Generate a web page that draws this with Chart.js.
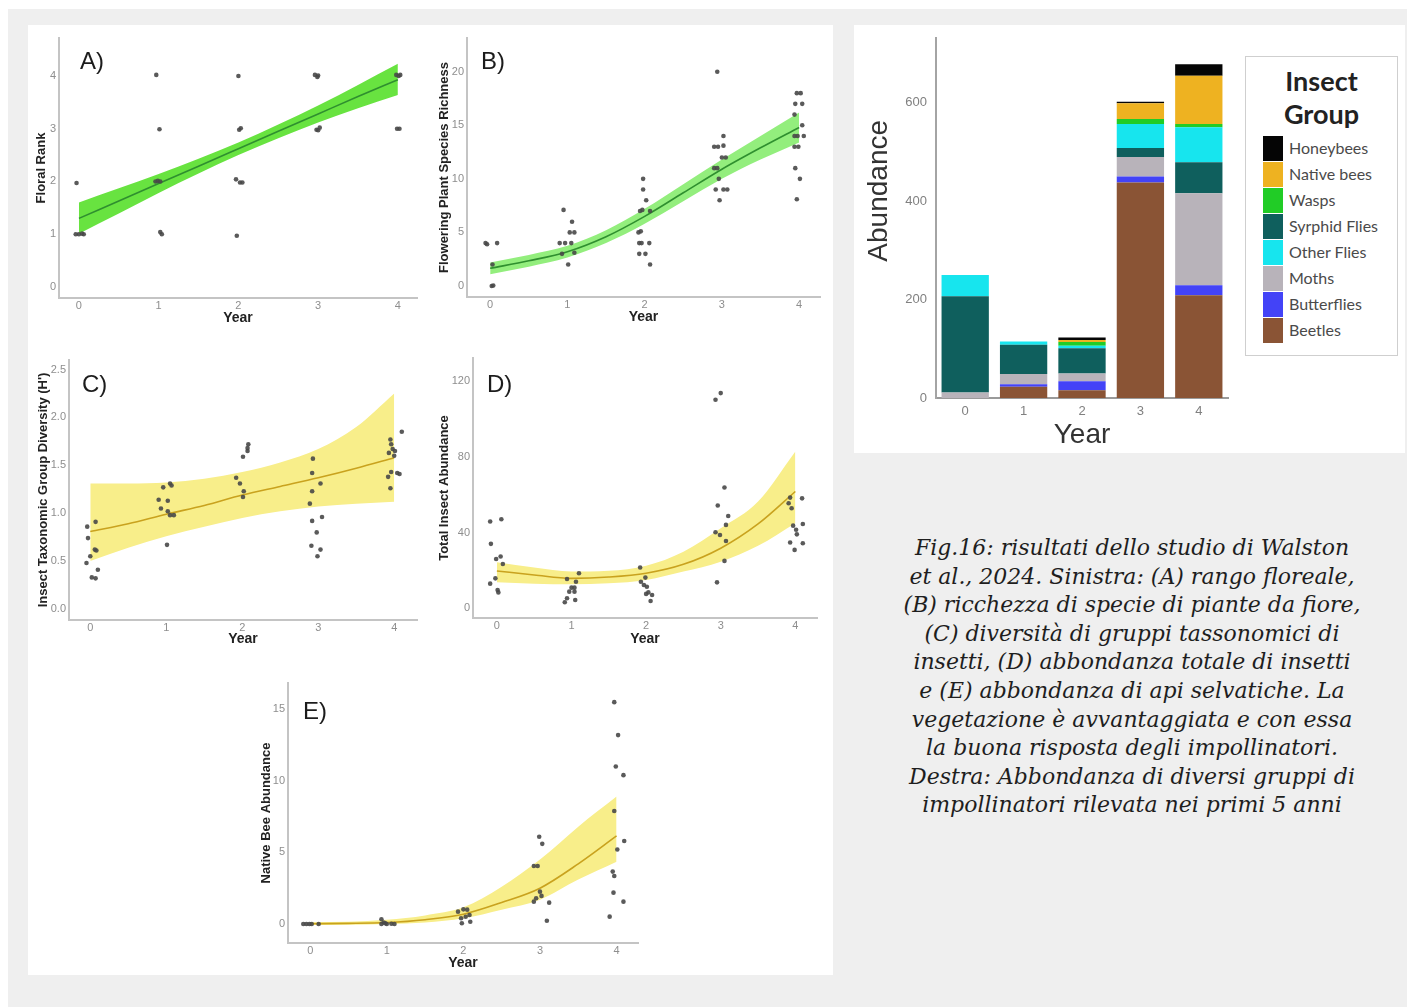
<!DOCTYPE html>
<html>
<head>
<meta charset="utf-8">
<script src="https://cdn.jsdelivr.net/npm/chart.js@4.4.1/dist/chart.umd.min.js"></script>
<style>
    body { margin: 0; width: 1407px; height: 1007px; background: #fff; position: relative; overflow: hidden; }
    #backdrop { position: absolute; left: 8px; top: 9px; width: 1399px; height: 998px; background: #efefef; }
    .card { position: absolute; background: #fff; }
    canvas { position: absolute; }
    #legend { position: absolute; left: 1245px; top: 56px; width: 151px; height: 298px; border: 1px solid #cfcfcf; background: #fff;
              font-family: Lato, "Open Sans", sans-serif; }
    #legend .title { position: absolute; left: 0; width: 100%; top: 7px; text-align: center; font-weight: 700; font-size: 27px; line-height: 33px; color: #222; }
    #legend .item { position: absolute; left: 17px; height: 25px; }
    #legend .swatch { position: absolute; left: 0; top: 0; width: 20px; height: 25px; }
    #legend .label { position: absolute; left: 26px; top: 2px; font-size: 16px; line-height: 20px; color: #4a4a4a; white-space: nowrap; }
    #caption { position: absolute; left: 860px; width: 544px; top: 534px; text-align: center; white-space: nowrap;
               font-family: "DejaVu Serif", serif; font-style: italic; font-size: 22px; line-height: 28.6px; color: #1e1e1e; }
</style>
</head>
<body>
<div id="backdrop"></div>
<div class="card" style="left:28px;top:25px;width:805px;height:950px;"></div>
<div class="card" style="left:854px;top:25px;width:551px;height:428px;"></div>
<div id="legend"><div class="title">Insect<br>Group</div></div>
<div id="caption">Fig.16: risultati dello studio di Walston<br>et al., 2024. Sinistra: (A) rango floreale,<br>(B) ricchezza di specie di piante da fiore,<br>(C) diversità di gruppi tassonomici di<br>insetti, (D) abbondanza totale di insetti<br>e (E) abbondanza di api selvatiche. La<br>vegetazione è avvantaggiata e con essa<br>la buona risposta degli impollinatori.<br>Destra: Abbondanza di diversi gruppi di<br>impollinatori rilevata nei primi 5 anni</div>
<script>
// Years on the x axis and the grid the fitted curves are read on
const yearTicks = [0, 1, 2, 3, 4];
const fitYears = [0, 0.5, 1, 1.5, 2, 2.5, 3, 3.5, 4];

// A) floral rank
const floralTicks = [0, 1, 2, 3, 4];
const floralX = [-0.03, -0.04, 0.0, 0.04, 0.06, 0.97, 1.01, 0.96, 0.99, 1.02, 1.02, 1.04, 2.0, 2.01, 2.03, 1.97, 2.02, 2.05, 1.98,
                 2.96, 2.99, 3.0, 2.98, 3.02, 3.0, 3.98, 4.03, 4.01, 3.99, 4.02];
const floralY = [1.97, 1.0, 1.0, 1.01, 1.0, 4.02, 2.99, 2.0, 2.01, 2.0, 1.04, 1.0, 4.0, 2.98, 3.01, 2.04, 1.98, 1.98, 0.97,
                 4.02, 3.98, 4.01, 2.98, 3.02, 2.97, 4.02, 4.02, 4.0, 3.0, 3.0];
const floralFit = [1.30, 1.63, 1.96, 2.29, 2.62, 2.95, 3.28, 3.61, 3.93];
const floralUpper = [1.60, 1.87, 2.14, 2.43, 2.74, 3.08, 3.44, 3.83, 4.23];
const floralLower = [1.01, 1.39, 1.78, 2.15, 2.50, 2.82, 3.12, 3.39, 3.64];

// B) flowering plant species richness
const richTicks = [0, 5, 10, 15, 20];
const richX = [-0.06, -0.04, 0.09, 0.03, 0.02, 0.04,
               0.95, 0.9, 0.97, 0.93, 1.01, 1.06, 1.03, 1.09, 1.09, 1.05,
               1.98, 1.98, 2.02, 1.94, 2.07, 1.92, 1.95, 1.93, 1.96, 2.06, 1.93, 2.01, 2.07, 1.97,
               2.94, 2.9, 2.95, 3.02, 3.02, 3.0, 3.05, 2.9, 2.94, 2.96, 2.92, 3.02, 3.07, 2.97,
               3.97, 4.02, 3.95, 4.04, 3.94, 4.04, 3.94, 3.98, 4.06, 3.94, 3.99, 3.95, 4.01, 3.97];
const richY = [4.0, 3.9, 4.0, 2.0, 0.0, 0.05,
               7.1, 4.0, 4.0, 3.0, 2.0, 6.0, 5.0, 5.0, 3.1, 4.0,
               10, 9, 8, 7, 7, 5, 5.1, 4, 4, 4, 3, 3, 2, 7.1,
               20, 13, 13, 14, 13.1, 12, 12, 11, 11, 10, 9, 9, 9, 8,
               18, 18, 17, 17, 16, 15, 14, 14, 14, 13, 13, 11, 10, 8.1];
const richFit = [1.65, 2.35, 3.2, 4.6, 6.5, 8.7, 10.9, 12.9, 14.8];
const richUpper = [2.2, 2.9, 3.75, 5.2, 7.2, 9.5, 11.8, 14.0, 16.2];
const richLower = [1.1, 1.8, 2.65, 4.0, 5.8, 7.9, 10.0, 11.8, 13.4];

// C) insect taxonomic group diversity
const divTicks = [0.0, 0.5, 1.0, 1.5, 2.0, 2.5];
const divX = [-0.05, -0.04, -0.03, 0.0, 0.06, 0.08, 0.07, 0.02, 0.07, 0.1,
              0.9, 0.93, 0.96, 1.01, 1.02, 1.05, 1.07, 1.02, 1.05, 1.1,
              1.92, 1.97, 2.02, 2.01, 2.01, 2.08, 2.07, 2.07,
              2.93, 2.92, 2.92, 2.89, 2.92, 3.03, 3.05, 2.98, 2.91, 3.03, 2.99,
              3.95, 3.96, 3.93, 3.98, 4.01, 4.1, 3.92, 3.96, 4.04, 4.07, 3.95, 4.0];
const divY = [0.48, 0.86, 0.74, 0.55, 0.62, 0.61, 0.91, 0.33, 0.32, 0.41,
              1.14, 1.05, 1.27, 0.67, 1.13, 1.31, 1.29, 1.02, 0.98, 0.98,
              1.37, 1.31, 1.23, 1.17, 1.59, 1.72, 1.68, 1.65,
              1.57, 1.42, 1.23, 1.1, 0.92, 1.31, 0.96, 0.8, 0.66, 0.62, 0.55,
              1.77, 1.72, 1.63, 1.67, 1.65, 1.85, 1.38, 1.43, 1.42, 1.41, 1.26, 1.6];
const divFit = [0.81, 0.89, 0.99, 1.08, 1.19, 1.28, 1.37, 1.47, 1.58];
const divUpper = [1.31, 1.31, 1.32, 1.36, 1.43, 1.53, 1.67, 1.90, 2.25];
const divLower = [0.50, 0.64, 0.76, 0.86, 0.95, 1.02, 1.07, 1.10, 1.12];

// D) total insect abundance
const totalTicks = [0, 40, 80, 120];
const totalX = [-0.09, -0.08, 0.06, -0.01, 0.05, 0.08, -0.02, -0.09, 0.01, 0.02,
                0.94, 1.1, 1.06, 1.0, 1.04, 0.97, 1.04, 0.94, 0.91, 1.05,
                1.92, 1.99, 1.93, 1.97, 2.01, 2.03, 2.08, 2.0, 2.06,
                2.93, 3.0, 3.05, 2.96, 3.1, 3.07, 2.93, 2.99, 3.07, 3.05, 2.95,
                3.93, 3.91, 3.95, 4.09, 3.97, 4.01, 4.02, 4.1, 3.93, 3.99, 4.1];
const totalY = [45.8, 34, 47, 26, 27.3, 23.4, 15.8, 13, 9.7, 8.4,
                15.5, 18.5, 14, 10.9, 10.9, 8.8, 8.8, 5.3, 3.2, 4.4,
                21.5, 16.2, 14, 12.3, 11.4, 8.4, 7, 7.6, 3.9,
                110, 113.5, 63.7, 54.2, 48.7, 44, 40.1, 38.7, 35.5, 25, 13.7,
                58.4, 55.4, 52.8, 58, 43.6, 41.4, 39, 44.5, 34.7, 30.8, 34.3];
const totalFit = [19.7, 17.6, 15.8, 16.5, 18.5, 23.2, 31.7, 44.5, 61.6];
const totalUpper = [24.3, 21.5, 19.4, 19.8, 22.5, 29.9, 42.2, 56.3, 82.7];
const totalLower = [13.7, 13.0, 12.7, 13.2, 15.0, 19.4, 24.6, 33.0, 44.9];

// E) native bee abundance
const beeTicks = [0, 5, 10, 15];
const beeX = [-0.09, -0.05, -0.01, 0.02, 0.11,
              0.93, 0.96, 0.93, 1.0, 1.06, 1.1, 0.98,
              1.93, 2.0, 2.05, 1.97, 1.98, 2.08, 2.09, 2.03,
              2.99, 3.03, 2.92, 2.97, 3.0, 3.02, 2.92, 2.95, 3.12, 3.09,
              3.97, 4.02, 3.99, 4.09, 3.97, 4.1, 4.01, 3.95, 3.97, 3.96, 4.09, 3.91];
const beeY = [0, 0, 0, 0, 0,
              0.33, 0.1, 0, 0, 0.02, 0, 0.05,
              0.86, 1.02, 1.0, 0.4, 0.05, 0.63, 0.16, 0.5,
              6.1, 5.6, 4.05, 4.05, 2.26, 1.96, 1.56, 1.8, 1.49, 0.23,
              15.5, 13.2, 11.0, 10.4, 7.9, 5.8, 5.2, 3.66, 3.35, 2.19, 1.56, 0.51];
const beeFit = [0.02, 0.04, 0.1, 0.3, 0.68, 1.5, 2.5, 4.2, 6.15];
const beeUpper = [0.12, 0.15, 0.3, 0.6, 1.16, 2.6, 4.5, 6.8, 8.9];
const beeLower = [-0.08, -0.05, 0.0, 0.1, 0.4, 1.0, 1.7, 3.1, 4.35];

// Stacked abundance by insect group (bottom of the stack first)
const barYears = ['0', '1', '2', '3', '4'];
const barTicks = [0, 200, 400, 600];
const beetles = [0, 23, 16, 438, 209];
const butterflies = [0, 5, 18, 12, 20];
const moths = [11, 21, 16, 40, 187];
const syrphidFlies = [196, 59, 51, 18, 63];
const otherFlies = [43, 7, 5, 49, 71];
const wasps = [0, 0, 8, 10, 7];
const nativeBees = [0, 0, 4, 32, 98];
const honeybees = [0, 0, 5, 3, 23];
const legendOrder = ['Honeybees', 'Native bees', 'Wasps', 'Syrphid Flies', 'Other Flies', 'Moths', 'Butterflies', 'Beetles'];

const groupColors = {
    'Beetles': '#8a5435', 'Butterflies': '#4343f7', 'Moths': '#b8b3ba', 'Syrphid Flies': '#0f5f5d',
    'Other Flies': '#17e5ee', 'Wasps': '#21cc26', 'Native bees': '#eeb221', 'Honeybees': '#050505'
};

Chart.defaults.font.family = '"Liberation Sans", Arial, sans-serif';
Chart.defaults.animation = false;
Chart.defaults.devicePixelRatio = 1;

// Draws the "A)", "B)" ... letter inside the plot area
const panelTag = {
    id: 'panelTag',
    afterDraw(chart, args, opts) {
        if (!opts.text) return;
        const { ctx, chartArea } = chart;
        ctx.save();
        ctx.font = '24px "Liberation Sans", Arial, sans-serif';
        ctx.fillStyle = '#1c1c1c';
        ctx.textBaseline = 'middle';
        ctx.fillText(opts.text, chartArea.left + opts.dx, chartArea.top + opts.dy);
        ctx.restore();
    }
};

// Rotated y-axis label placed at a given height instead of the axis centre
const sideTitle = {
    id: 'sideTitle',
    afterDraw(chart, args, opts) {
        if (!opts.text) return;
        const { ctx, chartArea } = chart;
        ctx.save();
        ctx.translate(chartArea.left - opts.dx, chartArea.top + opts.dy);
        ctx.rotate(-Math.PI / 2);
        ctx.font = opts.font;
        ctx.fillStyle = opts.color;
        ctx.textAlign = 'center';
        ctx.textBaseline = 'middle';
        ctx.fillText(opts.text, 0, 0);
        ctx.restore();
    }
};

function makeCanvas(left, top, width, height) {
    const c = document.createElement('canvas');
    c.width = width;
    c.height = height;
    c.style.left = left + 'px';
    c.style.top = top + 'px';
    c.style.width = width + 'px';
    c.style.height = height + 'px';
    document.body.appendChild(c);
    return c.getContext('2d');
}

const pairs = (xs, ys) => xs.map((x, i) => ({ x, y: ys[i] }));

const PT = 14, PR = 14, XH = 31;
const axisGray = '#c4c4c4';
const tickGray = '#8e8e8e';

function scatterPanel(p) {
    const [l, t, r, b] = p.plot;
    const yw = Math.round(p.titleGap + 7.8 + 2);
    const ctx = makeCanvas(l - yw, t - PT, r - l + yw + PR, b - t + PT + XH);
    const curve = { pointRadius: 0, cubicInterpolationMode: 'monotone' };

    new Chart(ctx, {
        type: 'line',
        data: {
            datasets: [
                { data: pairs(p.px, p.py), showLine: false, pointRadius: 2.3, pointBorderWidth: 0,
                  pointBackgroundColor: 'rgba(72,72,72,0.9)' },
                { data: pairs(fitYears, p.fit), borderColor: p.line, borderWidth: 1.6, fill: false, ...curve },
                { data: pairs(fitYears, p.upper), borderColor: 'rgba(0,0,0,0)', borderWidth: 0,
                  backgroundColor: p.band, fill: '+1', ...curve },
                { data: pairs(fitYears, p.lower), borderColor: 'rgba(0,0,0,0)', borderWidth: 0, fill: false, ...curve }
            ]
        },
        options: {
            responsive: false,
            events: [],
            layout: { padding: { left: 0, top: PT, right: PR, bottom: 0 } },
            plugins: {
                legend: { display: false },
                tooltip: { enabled: false },
                panelTag: { text: p.tag, dx: p.tagAt[0], dy: p.tagAt[1] }
            },
            scales: {
                x: {
                    type: 'linear', min: p.x[0], max: p.x[1],
                    grid: { display: false, drawTicks: false },
                    border: { display: true, color: axisGray, width: 2 },
                    afterBuildTicks: s => { s.ticks = yearTicks.map(v => ({ value: v })); },
                    afterFit: s => { s.height = XH; },
                    ticks: { color: tickGray, font: { size: 11 }, padding: 1, maxRotation: 0, autoSkip: false },
                    title: { display: true, text: 'Year', color: '#222', font: { size: 14, weight: 'bold' },
                             padding: XH - 8.4 - p.yearGap }
                },
                y: {
                    min: p.y[0], max: p.y[1],
                    grid: { display: false, drawTicks: false },
                    border: { display: true, color: axisGray, width: 2 },
                    afterBuildTicks: s => { s.ticks = p.yTicks.map(v => ({ value: v })); },
                    afterFit: s => { s.width = yw; },
                    ticks: { color: tickGray, font: { size: 11 }, padding: 3, autoSkip: false,
                             callback: v => v.toFixed(p.decimals) },
                    title: { display: true, text: p.yTitle, color: '#222', font: { size: 13, weight: 'bold' },
                             padding: yw - p.titleGap - 7.8 }
                }
            }
        },
        plugins: [panelTag]
    });
}

const green = { band: '#68e340', line: '#2f8f2f' };
const yellow = { band: '#f8ee8a', line: '#c9a21e' };

scatterPanel({ tag: 'A)', tagAt: [21, 24], plot: [59, 38, 417, 298], x: [-0.25, 4.24], y: [-0.21, 4.72],
    yTicks: floralTicks, decimals: 0, yTitle: 'Floral Rank', titleGap: 18, yearGap: 20,
    px: floralX, py: floralY, fit: floralFit, upper: floralUpper, lower: floralLower, ...green });

scatterPanel({ tag: 'B)', tagAt: [14, 24], plot: [467, 38, 820, 297], x: [-0.30, 4.27], y: [-1.03, 23.15],
    yTicks: richTicks, decimals: 0, yTitle: 'Flowering Plant Species Richness', titleGap: 23, yearGap: 20,
    px: richX, py: richY, fit: richFit, upper: richUpper, lower: richLower, band: '#93ee7d', line: '#2f8f2f' });

scatterPanel({ tag: 'C)', tagAt: [13, 25], plot: [69, 360, 417, 620], x: [-0.28, 4.30], y: [-0.115, 2.6],
    yTicks: divTicks, decimals: 1, yTitle: "Insect Taxonomic Group Diversity (H')", titleGap: 26, yearGap: 19,
    px: divX, py: divY, fit: divFit, upper: divUpper, lower: divLower, ...yellow });

scatterPanel({ tag: 'D)', tagAt: [14, 27], plot: [473, 358, 817, 618], x: [-0.32, 4.29], y: [-5.1, 132],
    yTicks: totalTicks, decimals: 0, yTitle: 'Total Insect Abundance', titleGap: 29, yearGap: 21,
    px: totalX, py: totalY, fit: totalFit, upper: totalUpper, lower: totalLower, ...yellow });

scatterPanel({ tag: 'E)', tagAt: [15, 29], plot: [288, 683, 638, 943], x: [-0.29, 4.28], y: [-1.33, 16.84],
    yTicks: beeTicks, decimals: 0, yTitle: 'Native Bee Abundance', titleGap: 22, yearGap: 20,
    px: beeX, py: beeY, fit: beeFit, upper: beeUpper, lower: beeLower, ...yellow });

// Stacked bar chart of insect groups per year
(function () {
    const plot = [936, 37, 1228, 398];
    const yw = 80, xh = 58, pt = 16, pr = 14;
    const [l, t, r, b] = plot;
    const ctx = makeCanvas(l - yw, t - pt, r - l + yw + pr, b - t + pt + xh);
    const stack = [
        ['Beetles', beetles], ['Butterflies', butterflies], ['Moths', moths], ['Syrphid Flies', syrphidFlies],
        ['Other Flies', otherFlies], ['Wasps', wasps], ['Native bees', nativeBees], ['Honeybees', honeybees]
    ];
    new Chart(ctx, {
        type: 'bar',
        data: {
            labels: barYears,
            datasets: stack.map(([name, vals]) => ({
                label: name, data: vals, backgroundColor: groupColors[name], borderWidth: 0
            }))
        },
        options: {
            responsive: false,
            events: [],
            layout: { padding: { left: 0, top: pt, right: pr, bottom: 0 } },
            datasets: { bar: { barPercentage: 0.9, categoryPercentage: 0.9 } },
            plugins: {
                legend: { display: false },
                tooltip: { enabled: false },
                sideTitle: { text: 'Abundance', dx: 57, dy: 153, font: '28px "Liberation Sans", Arial, sans-serif', color: '#333' }
            },
            scales: {
                x: {
                    stacked: true,
                    grid: { display: false, drawTicks: false },
                    border: { display: true, color: '#9a9a9a', width: 2 },
                    afterFit: s => { s.height = xh; },
                    ticks: { color: '#808080', font: { size: 13 }, padding: 6 },
                    title: { display: true, text: 'Year', color: '#333', font: { size: 28 }, padding: xh - 16.8 - 37 }
                },
                y: {
                    stacked: true, min: 0, max: 732,
                    grid: { display: false, drawTicks: false },
                    border: { display: true, color: '#a4a4a4', width: 2 },
                    afterBuildTicks: s => { s.ticks = barTicks.map(v => ({ value: v })); },
                    afterFit: s => { s.width = yw; },
                    ticks: { color: '#808080', font: { size: 13 }, padding: 9 }
                }
            }
        },
        plugins: [sideTitle]
    });
})();

// Legend box built from the same group names and colours
const legendBox = document.getElementById('legend');
legendOrder.forEach((name, i) => {
    const item = document.createElement('div');
    item.className = 'item';
    item.style.top = (79 + i * 26) + 'px';
    item.innerHTML = '<span class="swatch" style="background:' + groupColors[name] + '"></span><span class="label">' + name + '</span>';
    legendBox.appendChild(item);
});
</script>
</body>
</html>
